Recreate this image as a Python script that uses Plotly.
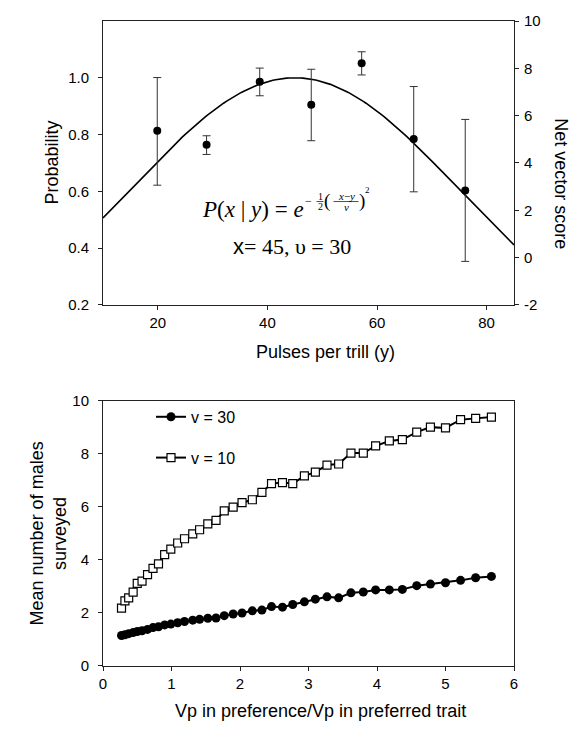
import math
import plotly.graph_objects as go

# ---------------- Top panel data ----------------
pulses = [19.9, 28.9, 38.6, 48.0, 57.2, 66.7, 76.1]
net_score = [5.36, 4.77, 7.43, 6.46, 8.21, 5.01, 2.84]
score_upper = [7.61, 5.15, 8.01, 7.96, 8.70, 7.23, 5.84]
score_lower = [3.06, 4.36, 6.84, 4.94, 7.72, 2.78, -0.16]
x_pref = 45      # preferred pulse rate (x)
v_pref = 30      # preference width (v)
curve_pulses = [10 + 0.5 * i for i in range(151)]
curve_prob = [math.exp(-0.5 * ((x_pref - y) / v_pref) ** 2) for y in curve_pulses]

# ---------------- Bottom panel data ----------------
vp_ratio = [0.27, 0.32, 0.375, 0.44, 0.50, 0.57, 0.65, 0.73, 0.81, 0.90,
            0.99, 1.09, 1.19, 1.31, 1.41, 1.53, 1.65, 1.77, 1.90, 2.03,
            2.18, 2.32, 2.46, 2.62, 2.77, 2.94, 3.10, 3.27, 3.44, 3.62,
            3.80, 3.98, 4.18, 4.37, 4.58, 4.78, 5.00, 5.22, 5.44, 5.67]
males_v30 = [1.15, 1.18, 1.22, 1.26, 1.30, 1.33, 1.38, 1.45, 1.48, 1.55,
             1.58, 1.63, 1.68, 1.73, 1.76, 1.80, 1.81, 1.90, 1.96, 2.00,
             2.08, 2.11, 2.24, 2.22, 2.32, 2.42, 2.52, 2.61, 2.57, 2.76,
             2.79, 2.87, 2.87, 2.89, 3.03, 3.09, 3.14, 3.23, 3.33, 3.38]
males_v10 = [2.18, 2.46, 2.57, 2.79, 3.12, 3.20, 3.45, 3.68, 3.85, 4.20,
             4.41, 4.64, 4.80, 4.98, 5.14, 5.36, 5.49, 5.85, 5.99, 6.16,
             6.27, 6.55, 6.88, 6.92, 6.88, 7.17, 7.31, 7.58, 7.62, 8.03,
             8.03, 8.30, 8.49, 8.54, 8.82, 9.01, 8.98, 9.29, 9.34, 9.39]

top_yticks = [0.2, 0.4, 0.6, 0.8, 1.0]
right_yticks = [-2, 0, 2, 4, 6, 8, 10]
top_xticks = [20, 40, 60, 80]
bottom_xticks = [0, 1, 2, 3, 4, 5, 6]
bottom_yticks = [0, 2, 4, 6, 8, 10]

SANS = "Liberation Sans, Arial, sans-serif"
SERIF = "Liberation Serif, Times New Roman, serif"
AX = "#222222"

W, H = 574, 729
ML, MR, MT, MB = 103, 60, 14, 63
PW = W - ML - MR
PH = H - MT - MB


def X(px):
    return (px - ML) / PW


def Y(py):
    return (H - MB - py) / PH


fig = go.Figure()

fig.add_trace(go.Scatter(
    x=curve_pulses, y=curve_prob, mode="lines",
    line=dict(color="black", width=1.6),
    xaxis="x", yaxis="y", showlegend=False, hoverinfo="skip"))

fig.add_trace(go.Scatter(
    x=pulses, y=net_score, mode="markers",
    marker=dict(color="black", size=8),
    error_y=dict(type="data", symmetric=False,
                 array=[u - s for u, s in zip(score_upper, net_score)],
                 arrayminus=[s - l for s, l in zip(net_score, score_lower)],
                 color="#333333", thickness=1, width=4),
    xaxis="x", yaxis="y3", showlegend=False))

fig.add_trace(go.Scatter(
    x=vp_ratio, y=males_v30, mode="lines+markers", name="v = 30",
    legendgroup="a",
    line=dict(color="black", width=2),
    marker=dict(symbol="circle", size=9, color="black"),
    xaxis="x2", yaxis="y2"))

fig.add_trace(go.Scatter(
    x=vp_ratio, y=males_v10, mode="lines+markers", name="v = 10",
    legendgroup="b",
    line=dict(color="black", width=2),
    marker=dict(symbol="square", size=8, color="white",
                line=dict(color="black", width=1.2)),
    xaxis="x2", yaxis="y2"))

axis_common = dict(showgrid=False, zeroline=False, showline=True,
                   linecolor=AX, linewidth=1, ticks="outside", ticklen=4,
                   tickcolor=AX, tickfont=dict(family=SANS, size=15, color="black"))

top_dom = [Y(301), 1.0]
bot_dom = [0.0, Y(398)]

fig.update_layout(
    width=W, height=H, autosize=False,
    margin=dict(l=ML, r=MR, t=MT, b=MB),
    paper_bgcolor="white", plot_bgcolor="white",
    xaxis=dict(domain=[0, 1], anchor="y", range=[10, 85], tickvals=top_xticks,
               mirror=True, ticklabelstandoff=0, **axis_common),
    yaxis=dict(domain=top_dom, anchor="x", range=[0.2, 1.2], tickvals=top_yticks,
               tickformat=".1f", mirror=True, ticklabelstandoff=6, **axis_common),
    yaxis3=dict(overlaying="y", side="right", anchor="x", range=[-2, 10],
                tickvals=right_yticks, ticktext=[str(v) for v in right_yticks],
                ticklabelstandoff=2, **axis_common),
    xaxis2=dict(domain=[0, 1], anchor="y2", range=[0, 6], tickvals=bottom_xticks,
                mirror=True, ticklabelstandoff=0, **axis_common),
    yaxis2=dict(domain=bot_dom, anchor="x2", range=[0, 10], tickvals=bottom_yticks,
                mirror=True, ticklabelstandoff=6, **axis_common),
    legend=dict(x=X(151), y=Y(397), xanchor="left", yanchor="top",
                bgcolor="rgba(0,0,0,0)", font=dict(family=SANS, size=16, color="black"),
                tracegroupgap=17, itemwidth=30),
    showlegend=True,
)

ann = []


def add_text(text, px, py, size, family=SANS, angle=0, xa="center", ya="middle"):
    ann.append(dict(text=text, x=X(px), y=Y(py), xref="paper", yref="paper",
                    showarrow=False, xanchor=xa, yanchor=ya, textangle=angle,
                    font=dict(family=family, size=size, color="black")))


# axis titles
add_text("Probability", 52, 157, 18, angle=-90)
add_text("Net vector score", 561, 178, 18, angle=90)
add_text("Pulses per trill (y)", 325, 349, 18)
add_text("Mean number of males<br>surveyed", 48, 532, 18, angle=-90)
add_text("Vp in preference/Vp in preferred trait", 320, 711, 18)

# formula
add_text("<i>P</i>(<i>x</i> | <i>y</i>) = <i>e</i>", 306, 205, 23, family=SERIF, xa="right")
add_text("−", 308.5, 196, 12, family=SERIF)
add_text("1", 320, 191.5, 10, family=SERIF)
add_text("2", 320, 202, 10, family=SERIF)
add_text("(", 326.5, 196, 19, family=SERIF)
add_text("<i>x</i>−<i>y</i>", 346, 190.5, 11, family=SERIF)
add_text("<i>ν</i>", 346, 202, 11, family=SERIF)
add_text(")", 361.5, 196, 19, family=SERIF)
add_text("2", 367, 185, 9, family=SERIF)
add_text("<span style='font-family:Liberation Sans'>x</span>= 45, υ = 30", 292, 242, 22, family=SERIF)

fig.update_layout(annotations=ann)
fig.add_shape(type="line", xref="paper", yref="paper",
              x0=X(316.5), x1=X(323.5), y0=Y(196.5), y1=Y(196.5),
              line=dict(color="black", width=0.7))
fig.add_shape(type="line", xref="paper", yref="paper",
              x0=X(333.5), x1=X(358.5), y0=Y(196.5), y1=Y(196.5),
              line=dict(color="black", width=0.7))

fig.write_html("out.html",
               config={"displayModeBar": False},
               post_script="document.body.style.margin='0px';"
                           "document.body.style.overflow='hidden';")
